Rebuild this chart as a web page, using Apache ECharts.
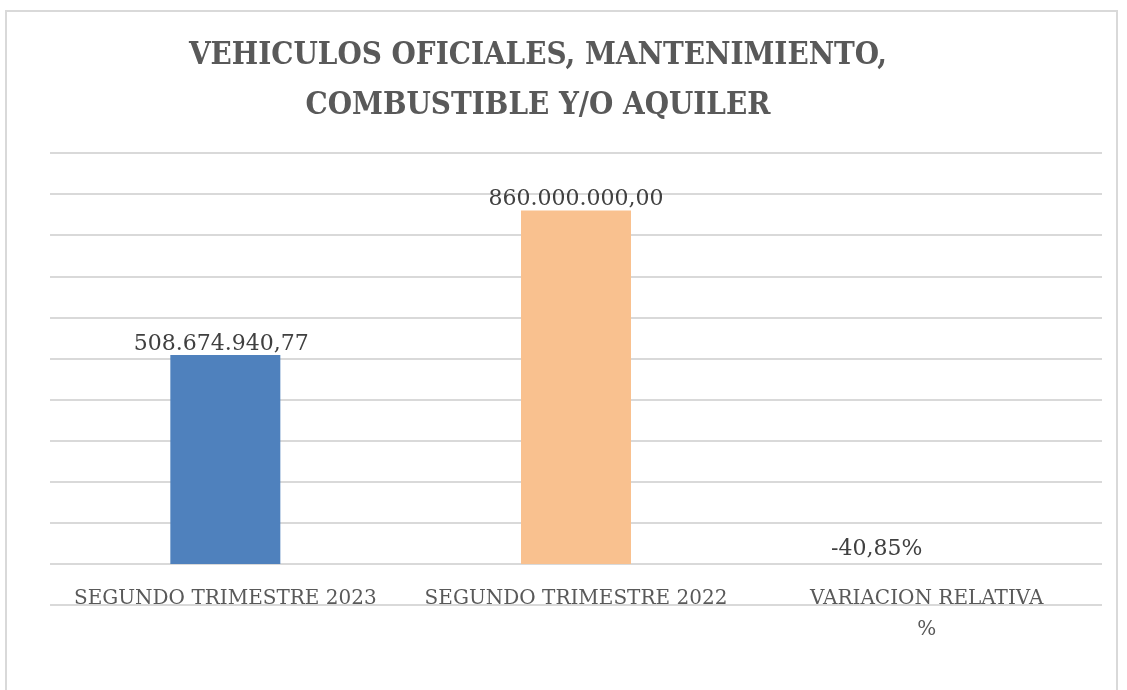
<!DOCTYPE html>
<html>
<head>
<meta charset="utf-8">
<script src="https://cdn.jsdelivr.net/npm/echarts@6/dist/echarts.min.js"></script>
<style>
html,body{margin:0;padding:0;background:#fff;}
#chart{width:1127px;height:690px;}
</style>
</head>
<body>
<div id="chart"></div>
<script>
var titleLines = ['VEHICULOS OFICIALES, MANTENIMIENTO,', 'COMBUSTIBLE Y/O AQUILER'];
var categories = ['SEGUNDO TRIMESTRE 2023', 'SEGUNDO TRIMESTRE 2022', 'VARIACION RELATIVA %'];
var values = [508674940.77, 860000000.00, -0.4085];
var barColors = ['#4f81bd', '#f9c18f', '#9bbb59'];

function fmtNum(v) {
  var parts = Math.abs(v).toFixed(2).split('.');
  var intPart = parts[0].replace(/\B(?=(\d{3})+(?!\d))/g, '.');
  return (v < 0 ? '-' : '') + intPart + ',' + parts[1];
}
function fmtLabel(idx, v) {
  if (idx === 2) return (v * 100).toFixed(2).replace('.', ',') + '%';
  return fmtNum(v);
}

var chart = echarts.init(document.getElementById('chart'));
var serif = '"DejaVu Serif", serif';
chart.setOption({
  animation: false,
  backgroundColor: '#ffffff',
  graphic: [
    {
      type: 'rect',
      shape: { x: 6, y: 11, width: 1111, height: 700 },
      style: { fill: 'none', stroke: '#d9d9d9', lineWidth: 2 },
      silent: true
    },
    {
      type: 'text',
      x: 538,
      y: 81,
      style: {
        text: titleLines.join('\n'),
        fill: '#595959',
        font: 'bold 31px "DejaVu Serif Condensed", "DejaVu Serif", serif',
        lineHeight: 50,
        align: 'center',
        verticalAlign: 'middle'
      }
    }
  ],
  grid: { left: 50, right: 25, top: 153, bottom: 85 },
  xAxis: {
    type: 'category',
    data: categories,
    offset: -41,
    axisLine: { show: false, onZero: false },
    axisTick: { show: false },
    axisLabel: {
      interval: 0,
      color: '#595959',
      fontFamily: serif,
      fontSize: 20,
      margin: 19,
      lineHeight: 31,
      formatter: function (v) { return v.replace(' %', '\n%'); }
    }
  },
  yAxis: {
    type: 'value',
    min: -100000000,
    max: 1000000000,
    interval: 100000000,
    axisLabel: { show: false },
    axisLine: { show: false },
    axisTick: { show: false },
    splitLine: { lineStyle: { color: '#d9d9d9', width: 2 } }
  },
  series: [{
    type: 'bar',
    barWidth: 110,
    data: values.map(function (v, i) {
      var item = { value: v, itemStyle: { color: barColors[i] } };
      if (i === 0) item.label = { offset: [-4, 0] };
      if (i === 2) item.label = { offset: [-50, -4] };
      return item;
    }),
    label: {
      show: true,
      position: 'top',
      distance: 0,
      color: '#404040',
      fontFamily: serif,
      fontSize: 22,
      formatter: function (p) { return fmtLabel(p.dataIndex, p.value); }
    }
  }]
});
</script>
</body>
</html>
